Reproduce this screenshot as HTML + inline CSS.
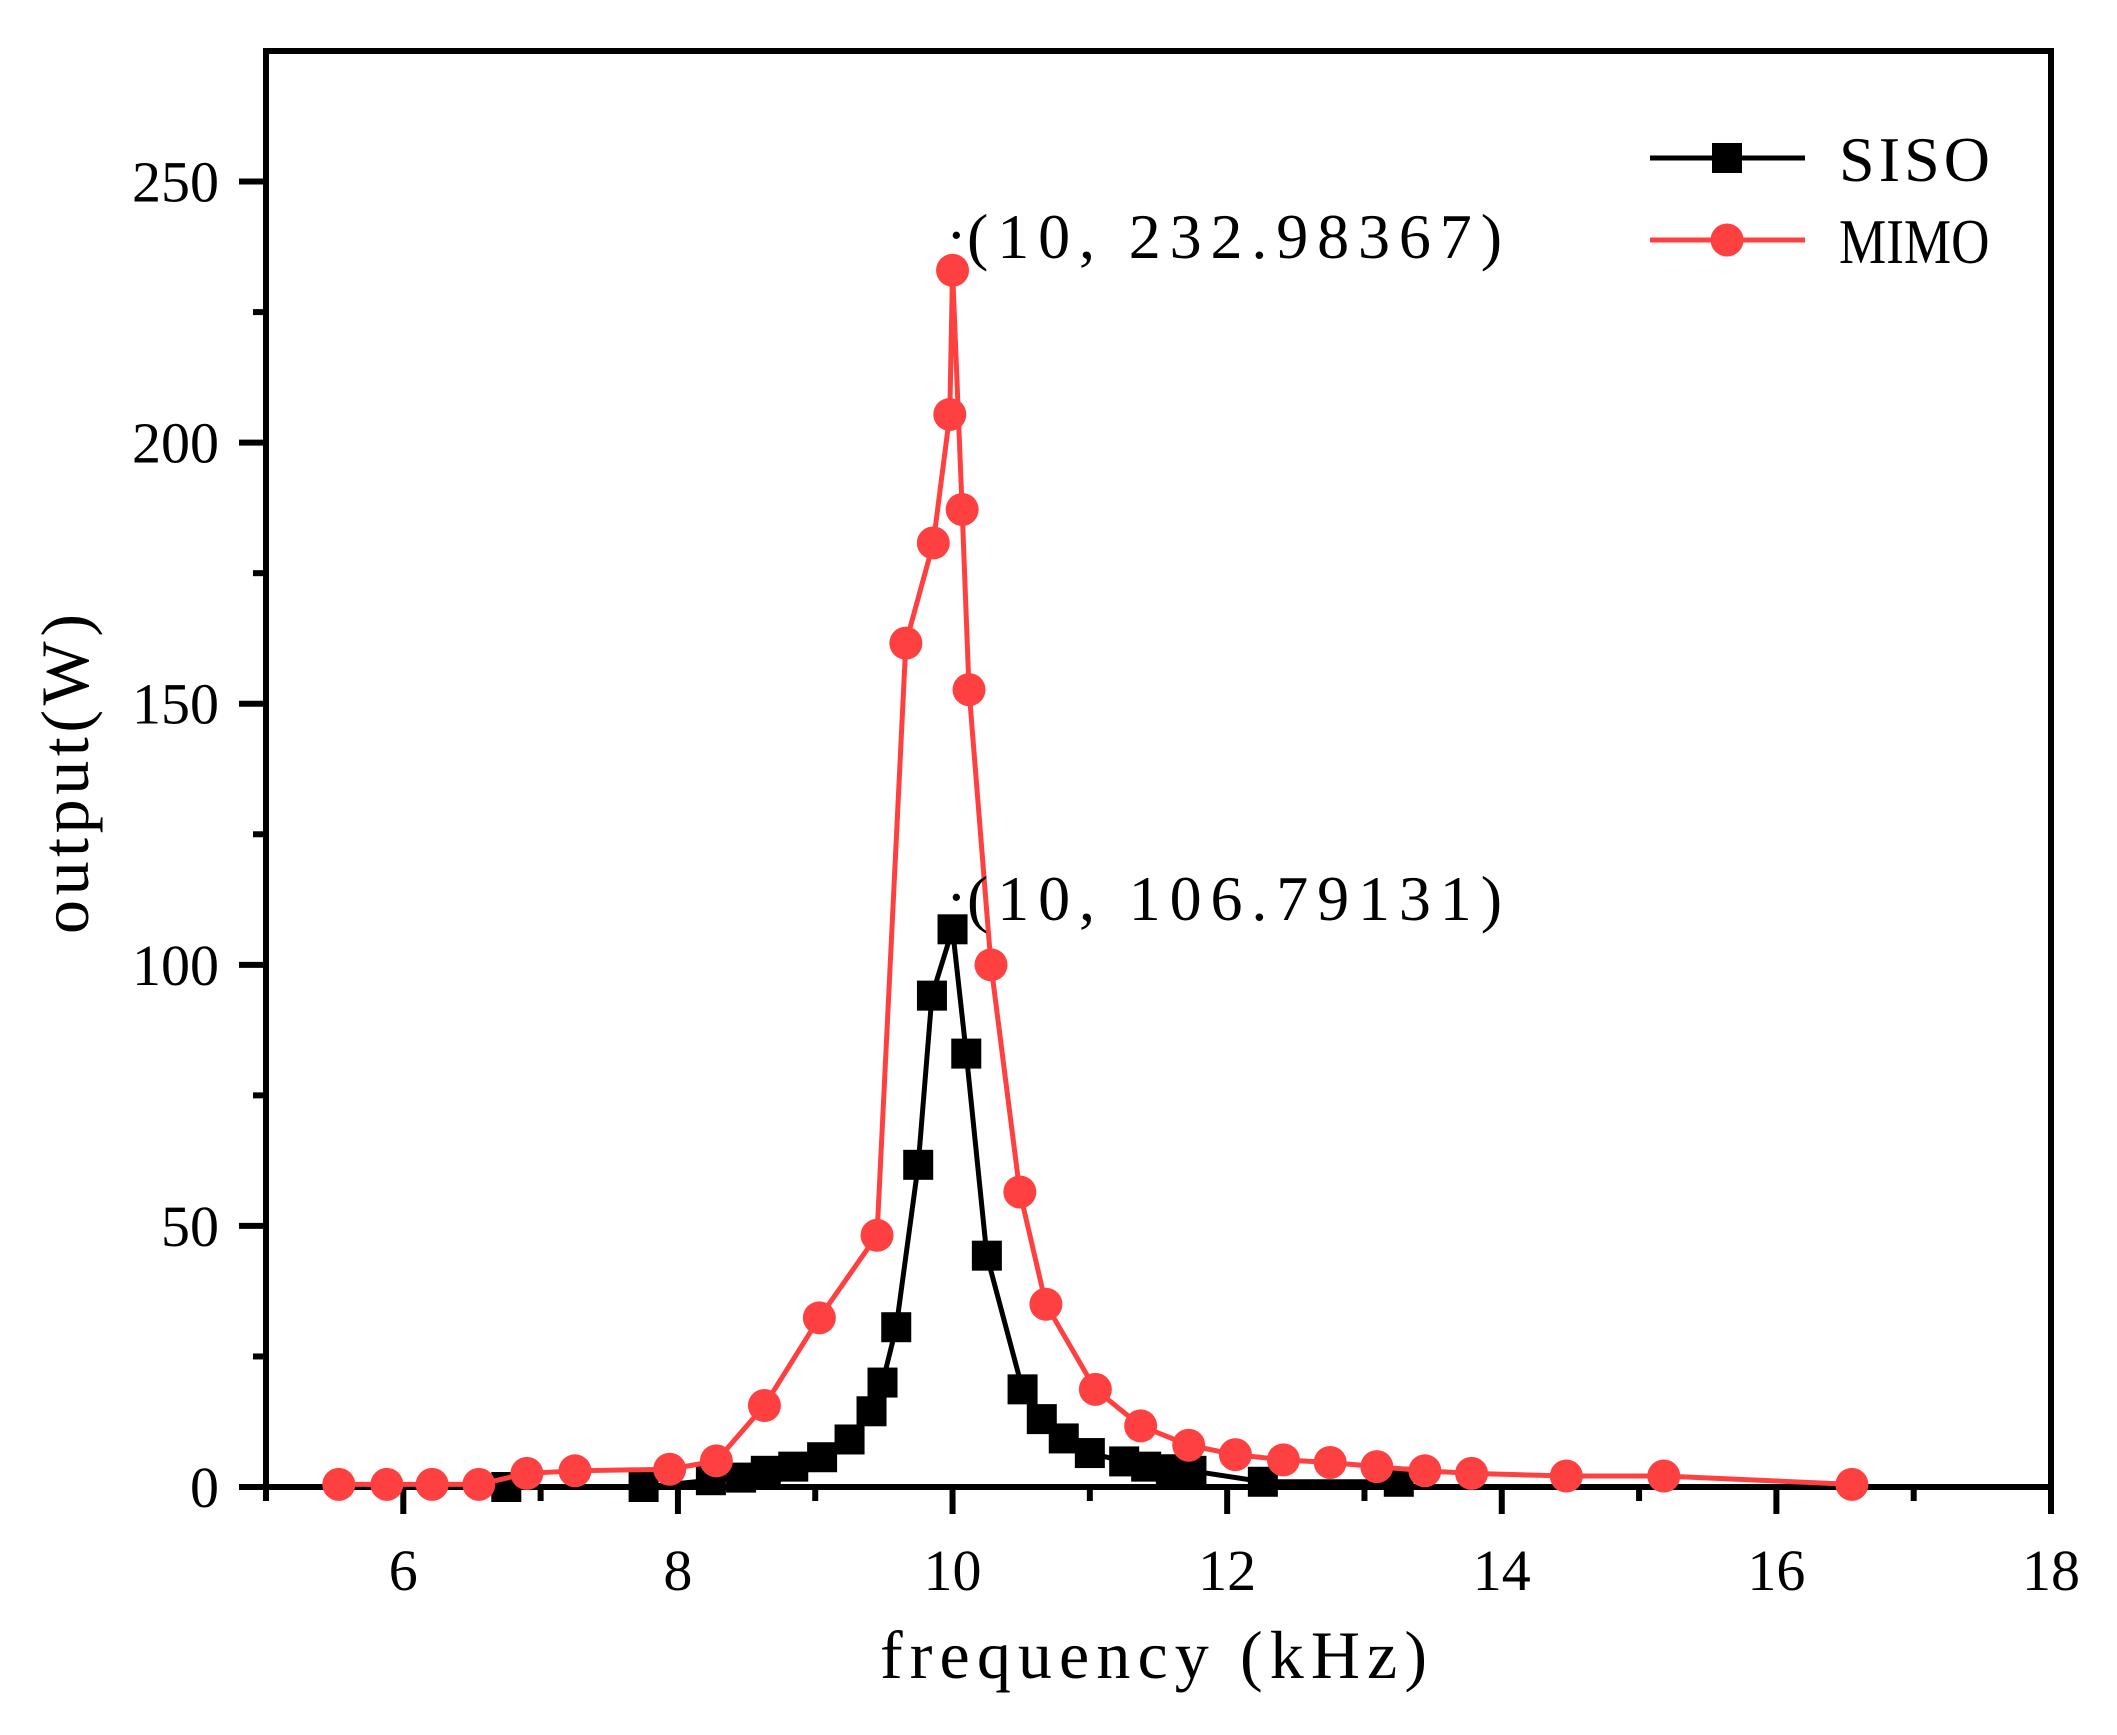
<!DOCTYPE html>
<html><head><meta charset="utf-8"><style>
html,body{margin:0;padding:0;background:#fff;}
svg{display:block;}
text{font-family:"Liberation Serif","Noto Serif CJK SC",serif;fill:#000;}
</style></head><body>
<svg id="chart" width="2117" height="1735" viewBox="0 0 2117 1735" xmlns="http://www.w3.org/2000/svg">
<g id="axes"></g>
<g id="series"></g>
<g id="labels"></g>
</svg>
<script>
const xTicks = [6, 8, 10, 12, 14, 16, 18];
const xMinor = [5, 7, 9, 11, 13, 15, 17];
const yTicks = [0, 50, 100, 150, 200, 250];
const yMinor = [25, 75, 125, 175, 225];
const sisoX = [6.75,7.75,8.24,8.46,8.64,8.84,9.05,9.25,9.41,9.49,9.59,9.75,9.85,10.0,10.1,10.25,10.51,10.65,10.81,11.0,11.25,11.41,11.59,11.74,12.26,13.25];
const sisoY = [0,0,1.3,1.8,3.1,3.9,5.7,9.1,14.5,20,30.6,61.7,94.1,106.8,83,44.3,18.7,13,9.3,6.5,4.9,3.9,3.4,3.1,1,1];
const mimoX = [5.53,5.88,6.21,6.55,6.9,7.25,7.94,8.28,8.63,9.03,9.45,9.66,9.86,9.98,10.0,10.07,10.12,10.28,10.49,10.68,11.04,11.37,11.72,12.06,12.41,12.75,13.09,13.44,13.78,14.47,15.18,16.55];
const mimoY = [0.5,0.5,0.5,0.5,2.6,3.1,3.4,5,15.6,32.4,48.2,161.6,180.8,205.4,233,187.2,152.7,100,56.5,35,18.7,11.7,8,6.2,5.2,4.7,3.9,3.1,2.6,2.1,2.1,0.5];

const X0=266, X1=2051, Y0=1487, YT=51;
const xs = v => X0 + (v-5)*(X1-X0)/13;
const ys = v => Y0 - v*(Y0-YT)/275;
const NS="http://www.w3.org/2000/svg";
function mk(tag, attrs, parent){const e=document.createElementNS(NS,tag);for(const k in attrs)e.setAttribute(k,attrs[k]);parent.appendChild(e);return e;}
const axes=document.getElementById('axes'), series=document.getElementById('series'), labels=document.getElementById('labels');

let f=mk('rect',{x:X0,y:YT,width:X1-X0,height:Y0-YT,fill:'none',stroke:'#000','stroke-width':6},axes);



yTicks.forEach(v=>{
  let t=mk('line',{x1:X0-27,x2:X0,y1:ys(v),y2:ys(v),stroke:'#000','stroke-width':6},axes);
  
  
  let l=mk('text',{x:219,y:ys(v)+20,'text-anchor':'end','font-size':58},labels);
  l.textContent=v;
  
  
});
yMinor.forEach(v=>{
  let t=mk('line',{x1:X0-13,x2:X0,y1:ys(v),y2:ys(v),stroke:'#000','stroke-width':6},axes);
  
  
});
xTicks.forEach(v=>{
  let t=mk('line',{x1:xs(v),x2:xs(v),y1:Y0,y2:Y0+27,stroke:'#000','stroke-width':6},axes);
  
  
  let l=mk('text',{x:xs(v),y:1590,'text-anchor':'middle','font-size':58},labels);
  l.textContent=v;
  
  
});
xMinor.forEach(v=>{
  let t=mk('line',{x1:xs(v),x2:xs(v),y1:Y0,y2:Y0+14,stroke:'#000','stroke-width':6},axes);
  
  
});

function drawSeries(xa, ya, color, shape, name){
  const g=mk('g',{},series);
  
  
  const pl=mk('polyline',{points:xa.map((x,i)=>xs(x)+','+ys(ya[i])).join(' '),fill:'none',stroke:color,'stroke-width':5},g);
  
  
  xa.forEach((x,i)=>{
    let m;
    if(shape==='square') m=mk('rect',{x:xs(x)-15,y:ys(ya[i])-15,width:30,height:30,fill:color},g);
    else m=mk('circle',{cx:xs(x),cy:ys(ya[i]),r:16.5,fill:color},g);
    
    
  });
}
drawSeries(sisoX,sisoY,'#000','square','siso');
drawSeries(mimoX,mimoY,'#ff4040','circle','mimo');

function txt(s,attrs,name){const t=mk('text',attrs,labels);t.textContent=s;return t;}
txt('frequency (kHz)',{x:880,y:1678,'font-size':68,textLength:547,lengthAdjust:'spacing'},'x-axis-title');
txt('output(W)',{x:0,y:0,'font-size':68,textLength:320,lengthAdjust:'spacing',transform:'translate(88,934) rotate(-90)'},'y-axis-title');
txt('·',{x:946,y:256,'font-size':62},'mimo-peak-dot');
txt('(10, 232.98367)',{x:967,y:258,'font-size':64,textLength:535,lengthAdjust:'spacing'},'mimo-peak-annotation');
txt('·',{x:946,y:918,'font-size':62},'siso-peak-dot');
txt('(10, 106.79131)',{x:967,y:920,'font-size':64,textLength:535,lengthAdjust:'spacing'},'siso-peak-annotation');

const lg=mk('g',{},labels);


let a=mk('line',{x1:1650,x2:1805,y1:158,y2:158,stroke:'#000','stroke-width':5},lg);


let b=mk('rect',{x:1712,y:143,width:30,height:30,fill:'#000'},lg);


let c=mk('line',{x1:1650,x2:1805,y1:240,y2:240,stroke:'#ff4040','stroke-width':5},lg);


let d=mk('circle',{cx:1727,cy:240,r:16.5,fill:'#ff4040'},lg);


txt('SISO',{x:1839,y:181,'font-size':64,textLength:151,lengthAdjust:'spacing'},'legend-siso-label');
txt('MIMO',{x:1839,y:263,'font-size':64,transform:'translate(1839,0) scale(0.83,1) translate(-1839,0)'},'legend-mimo-label');
</script>
</body></html>
